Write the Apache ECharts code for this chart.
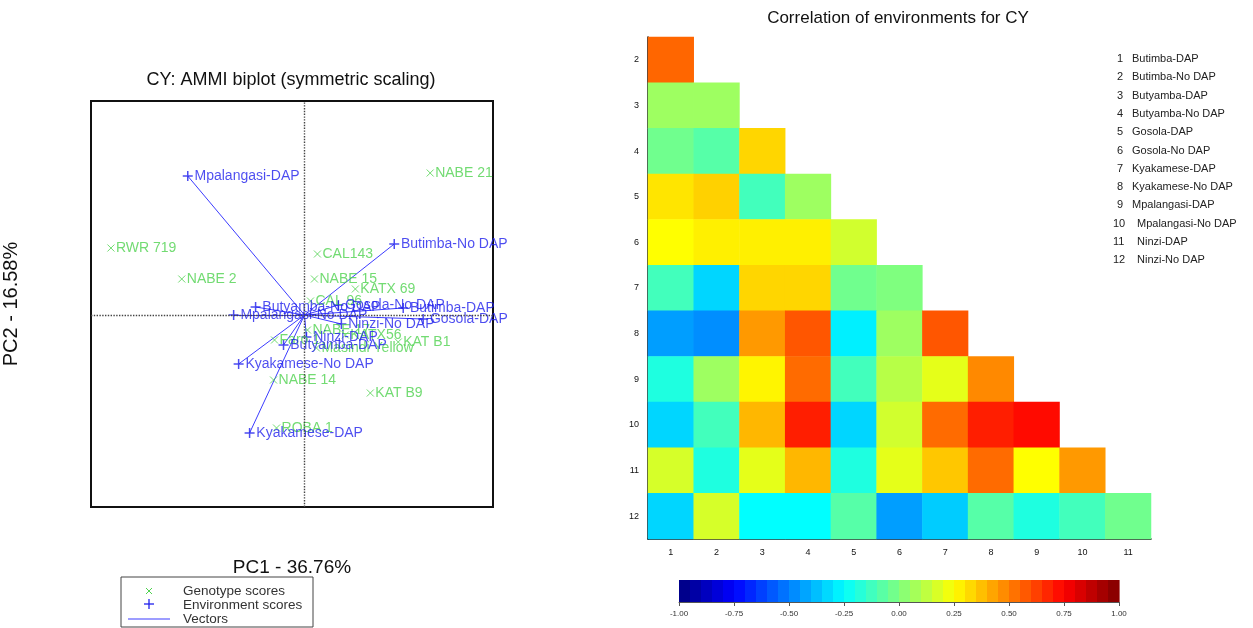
<html lang="en">
<head>
    <meta charset="UTF-8">
    <title>CY AMMI biplot and correlation</title>
    <script src="https://cdn.jsdelivr.net/npm/echarts@6/dist/echarts.min.js"></script>
</head>
<body style="margin:0">
    <div id="main" style="width: 1253px; height: 628px;"></div>
    <script type="text/javascript">
        // genotype scores (PC1, PC2)
        var genoNames = ['NABE 21', 'RWR 719', 'CAL143', 'NABE 2', 'NABE 15', 'KATX 69', 'CAL 96', 'NABE 17',
            'KATX56', 'KAT B1', 'Faro 1', 'Masindi Yellow', 'NABE 14', 'KAT B9', 'ROBA 1'];
        var genoPC1 = [1.26, -1.94, 0.13, -1.23, 0.10, 0.51, 0.06, 0.03, 0.41, 0.94, -0.30, 0.12, -0.31, 0.66, -0.28];
        var genoPC2 = [1.42, 0.67, 0.61, 0.36, 0.36, 0.26, 0.14, -0.15, -0.20, -0.27, -0.25, -0.33, -0.65, -0.78, -1.13];

        // environment scores (PC1, PC2)
        var envPlotNames = ['Mpalangasi-DAP', 'Butimba-No DAP', 'Butyamba-No DAP', 'Mpalangasi-No DAP', 'Gosola-No DAP',
            'Butimba-DAP', 'Gosola-DAP', 'Ninzi-No DAP', 'Ninzi-DAP', 'Butyamba-DAP', 'Kyakamese-No DAP', 'Kyakamese-DAP'];
        var envPC1 = [-1.17, 0.90, -0.49, -0.71, 0.34, 0.99, 1.19, 0.37, 0.02, -0.21, -0.66, -0.55];
        var envPC2 = [1.39, 0.71, 0.08, 0.00, 0.10, 0.07, -0.04, -0.09, -0.22, -0.30, -0.49, -1.18];

        // correlation matrix (lower triangle), rows 2..12, columns 1..row-1
        var envNames = ['Butimba-DAP', 'Butimba-No DAP', 'Butyamba-DAP', 'Butyamba-No DAP', 'Gosola-DAP', 'Gosola-No DAP',
            'Kyakamese-DAP', 'Kyakamese-No DAP', 'Mpalangasi-DAP', 'Mpalangasi-No DAP', 'Ninzi-DAP', 'Ninzi-No DAP'];
        var colLabels = ['1', '2', '3', '4', '5', '6', '7', '8', '9', '10', '11'];
        var rowLabels = ['2', '3', '4', '5', '6', '7', '8', '9', '10', '11', '12'];
        var corrRows = [
            [0.55],
            [0.06, 0.06],
            [-0.03, -0.08, 0.33],
            [0.30, 0.34, -0.12, 0.06],
            [0.25, 0.28, 0.28, 0.28, 0.16],
            [-0.12, -0.33, 0.33, 0.33, -0.03, 0.00],
            [-0.44, -0.47, 0.45, 0.58, -0.28, 0.06, 0.58],
            [-0.19, 0.06, 0.27, 0.54, -0.12, 0.11, 0.20, 0.48],
            [-0.33, -0.12, 0.39, 0.69, -0.33, 0.16, 0.54, 0.69, 0.73],
            [0.17, -0.19, 0.20, 0.39, -0.19, 0.20, 0.36, 0.54, 0.25, 0.45],
            [-0.33, 0.17, -0.25, -0.25, -0.08, -0.44, -0.35, -0.08, -0.19, -0.12, -0.03]
        ];

        var FONT = 'Liberation Sans, Arial, sans-serif';
        var GREEN = '#4fd24f';
        var BLUE = '#1f1fec';
        var jet = ['#00007f', '#0000ff', '#007fff', '#00ffff', '#7fff7f', '#ffff00', '#ff7f00', '#ff0000', '#7f0000'];
        var crossPath = 'path://M0,0L10,10M10,0L0,10';
        var plusPath = 'path://M5,0L5,10M0,5L10,5';

        var heatData = [];
        corrRows.forEach(function (row, r) {
            row.forEach(function (v, c) { heatData.push([c, r, v]); });
        });
        // colour key: 40 steps from -1 to 1
        var keyBins = [];
        for (var k = 0; k < 40; k++) {
            var lo = -1 + k * 0.05;
            keyBins.push([lo, lo + 0.05, lo + 0.025]);
        }

        var graphics = [
            { type: 'text', x: 291, y: 80, style: { text: 'CY: AMMI biplot (symmetric scaling)', fontSize: 18, fontFamily: FONT, fill: '#111', align: 'center', verticalAlign: 'middle' } },
            { type: 'text', x: 898, y: 18, style: { text: 'Correlation of environments for CY', fontSize: 17, fontFamily: FONT, fill: '#111', align: 'center', verticalAlign: 'middle' } },
            // biplot legend box
            { type: 'rect', shape: { x: 121, y: 577, width: 192, height: 50 }, style: { fill: '#fff', stroke: '#444', lineWidth: 1 } },
            { type: 'line', shape: { x1: 146, y1: 588, x2: 152, y2: 594 }, style: { stroke: GREEN, lineWidth: 1 } },
            { type: 'line', shape: { x1: 152, y1: 588, x2: 146, y2: 594 }, style: { stroke: GREEN, lineWidth: 1 } },
            { type: 'line', shape: { x1: 149, y1: 599, x2: 149, y2: 609 }, style: { stroke: BLUE, lineWidth: 1.3 } },
            { type: 'line', shape: { x1: 144, y1: 604, x2: 154, y2: 604 }, style: { stroke: BLUE, lineWidth: 1.3 } },
            { type: 'line', shape: { x1: 128, y1: 619, x2: 170, y2: 619 }, style: { stroke: '#3c3cff', lineWidth: 1.2 } },
            { type: 'text', x: 183, y: 591, style: { text: 'Genotype scores', fontSize: 13.5, fontFamily: FONT, fill: '#333', verticalAlign: 'middle' } },
            { type: 'text', x: 183, y: 605, style: { text: 'Environment scores', fontSize: 13.5, fontFamily: FONT, fill: '#333', verticalAlign: 'middle' } },
            { type: 'text', x: 183, y: 619, style: { text: 'Vectors', fontSize: 13.5, fontFamily: FONT, fill: '#333', verticalAlign: 'middle' } }
        ];
        envNames.forEach(function (n, i) {
            var y = 59 + i * 18.3;
            graphics.push({ type: 'text', x: i < 9 ? 1117 : 1113, y: y, style: { text: String(i + 1), fontSize: 11, fontFamily: FONT, fill: '#222', verticalAlign: 'middle' } });
            graphics.push({ type: 'text', x: i < 9 ? 1132 : 1137, y: y, style: { text: n, fontSize: 11, fontFamily: FONT, fill: '#222', verticalAlign: 'middle' } });
        });

        var chart = echarts.init(document.getElementById('main'));
        var option = {
            backgroundColor: '#fff',
            animation: false,
            textStyle: { fontFamily: FONT },
            graphic: graphics,
            grid: [
                { left: 90, top: 101, width: 403, height: 406, show: true, borderColor: '#111', borderWidth: 2, backgroundColor: 'transparent' },
                { left: 648, top: 37, width: 503, height: 502 },
                { left: 679, top: 580, width: 440, height: 22 }
            ],
            xAxis: [
                {
                    gridIndex: 0, type: 'value', min: -2.14, max: 1.89,
                    axisLine: { show: false }, axisTick: { show: false }, axisLabel: { show: false }, splitLine: { show: false },
                    name: 'PC1 - 36.76%', nameLocation: 'middle', nameGap: 51,
                    nameTextStyle: { fontSize: 19, color: '#111', fontFamily: FONT }
                },
                {
                    gridIndex: 1, type: 'category', data: colLabels, position: 'bottom',
                    axisLine: { lineStyle: { color: '#000', width: 1.5 } },
                    axisTick: { alignWithLabel: true, length: 4, lineStyle: { color: '#000', width: 1.5 } },
                    axisLabel: { fontSize: 9, color: '#111', margin: 9 },
                    splitLine: { show: false }
                },
                {
                    gridIndex: 2, type: 'value', min: -1, max: 1, interval: 0.25,
                    axisLine: { lineStyle: { color: '#555', width: 1 } },
                    axisTick: { length: 4, lineStyle: { color: '#555' } },
                    axisLabel: { fontSize: 8, color: '#333', margin: 8, formatter: function (v) { return v.toFixed(2); } },
                    splitLine: { show: false }
                }
            ],
            yAxis: [
                {
                    gridIndex: 0, type: 'value', min: -1.92, max: 2.14,
                    axisLine: { show: false }, axisTick: { show: false }, axisLabel: { show: false }, splitLine: { show: false },
                    name: 'PC2 - 16.58%', nameLocation: 'middle', nameGap: 70,
                    nameTextStyle: { fontSize: 20, color: '#111', fontFamily: FONT }
                },
                {
                    gridIndex: 1, type: 'category', data: rowLabels, inverse: true,
                    axisLine: { lineStyle: { color: '#000', width: 1.5 } },
                    axisTick: { alignWithLabel: true, length: 4, lineStyle: { color: '#000', width: 1.5 } },
                    axisLabel: { fontSize: 9, color: '#111', margin: 9 },
                    splitLine: { show: false }
                },
                { gridIndex: 2, type: 'value', min: 0, max: 1, show: false }
            ],
            visualMap: {
                type: 'continuous', show: false, min: -1, max: 1, dimension: 2,
                seriesIndex: [3, 4],
                inRange: { color: jet }
            },
            series: [
                {
                    name: 'Genotype scores', type: 'scatter', xAxisIndex: 0, yAxisIndex: 0,
                    symbol: crossPath, symbolSize: 7,
                    itemStyle: { color: 'transparent', borderColor: GREEN, borderWidth: 1 },
                    label: { show: true, position: 'right', distance: 1, fontSize: 14, color: GREEN, formatter: '{b}' },
                    data: genoNames.map(function (n, i) { return { name: n, value: [genoPC1[i], genoPC2[i]] }; }),
                    markLine: {
                        silent: true, symbol: 'none', label: { show: false },
                        lineStyle: { type: 'dotted', color: '#444', width: 1.4 },
                        data: [{ xAxis: 0 }, { yAxis: 0 }]
                    }
                },
                {
                    name: 'Vectors', type: 'lines', coordinateSystem: 'cartesian2d', xAxisIndex: 0, yAxisIndex: 0,
                    lineStyle: { color: '#3c3cff', width: 1, opacity: 1 },
                    data: envPC1.map(function (x, i) { return { coords: [[0, 0], [x, envPC2[i]]] }; })
                },
                {
                    name: 'Environment scores', type: 'scatter', xAxisIndex: 0, yAxisIndex: 0,
                    symbol: plusPath, symbolSize: 10,
                    itemStyle: { color: 'transparent', borderColor: BLUE, borderWidth: 1.5 },
                    label: { show: true, position: 'right', distance: 1, fontSize: 14, color: BLUE, formatter: '{b}' },
                    data: envPlotNames.map(function (n, i) { return { name: n, value: [envPC1[i], envPC2[i]] }; })
                },
                {
                    name: 'Correlation', type: 'heatmap', xAxisIndex: 1, yAxisIndex: 1,
                    data: heatData,
                    itemStyle: { borderWidth: 0 },
                    emphasis: { disabled: true }
                },
                {
                    name: 'Colour key', type: 'custom', xAxisIndex: 2, yAxisIndex: 2,
                    data: keyBins,
                    renderItem: function (params, api) {
                        var p0 = api.coord([api.value(0), 0]);
                        var p1 = api.coord([api.value(1), 1]);
                        return {
                            type: 'rect',
                            shape: { x: p0[0], y: p1[1], width: p1[0] - p0[0] + 0.6, height: p0[1] - p1[1] },
                            style: { fill: api.visual('color') }
                        };
                    }
                }
            ]
        };
        chart.setOption(option);
    </script>
</body>
</html>
